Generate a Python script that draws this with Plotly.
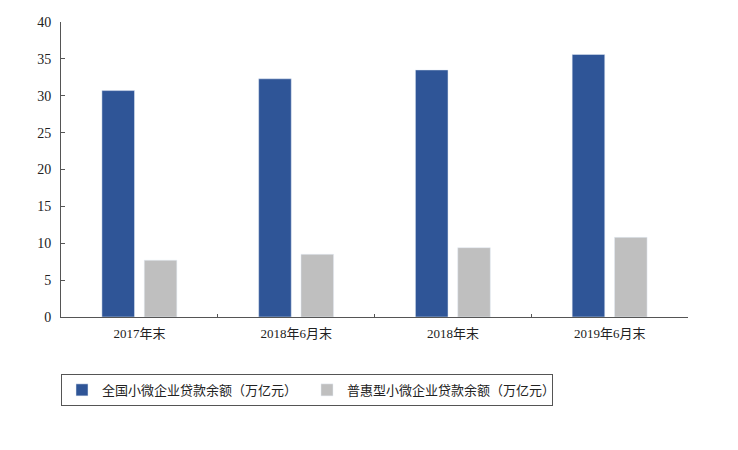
import plotly.graph_objects as go

periods = ["2017年末", "2018年6月末", "2018年末", "2019年6月末"]
total_loans = [30.7, 32.3, 33.5, 35.6]
inclusive_loans = [7.7, 8.5, 9.4, 10.8]
y_ticks = [0, 5, 10, 15, 20, 25, 30, 35, 40]

serif = "Liberation Serif, Times New Roman, Noto Sans CJK SC"

fig = go.Figure()
fig.add_trace(go.Bar(x=periods, y=total_loans, name="全国小微企业贷款余额（万亿元）",
                     marker_color="#2F5597"))
fig.add_trace(go.Bar(x=periods, y=inclusive_loans, name="普惠型小微企业贷款余额（万亿元）",
                     marker_color="#BFBFBF"))

# page body adds an 8px offset, so the figure is a little smaller than the window
fig.update_layout(
    width=730, height=442,
    margin=dict(l=53, r=50, t=14, b=133, autoexpand=False),
    plot_bgcolor="white", paper_bgcolor="white",
    barmode="group", bargap=0.46, bargroupgap=0.23,
    font=dict(family=serif, size=13, color="#222222"),
    showlegend=True,
    legend=dict(orientation="h", x=0, xanchor="left", y=-0.193, yanchor="top",
                bordercolor="#555555", borderwidth=1,
                font=dict(family=serif, size=13, color="#222222"),
                entrywidth=200, itemwidth=30, tracegroupgap=0),
)
fig.update_xaxes(showline=True, linecolor="#555555", linewidth=1,
                 ticks="inside", ticklen=3, tickcolor="#555555",
                 tickson="boundaries", showgrid=False,
                 tickfont=dict(size=13), ticklabelstandoff=4)
fig.update_yaxes(range=[0, 40], tickvals=y_ticks, showline=True,
                 linecolor="#555555", linewidth=1, ticks="inside", ticklen=4,
                 tickcolor="#555555", showgrid=False, zeroline=False,
                 tickfont=dict(size=14), ticklabelstandoff=6)

fig.write_html("out.html")
